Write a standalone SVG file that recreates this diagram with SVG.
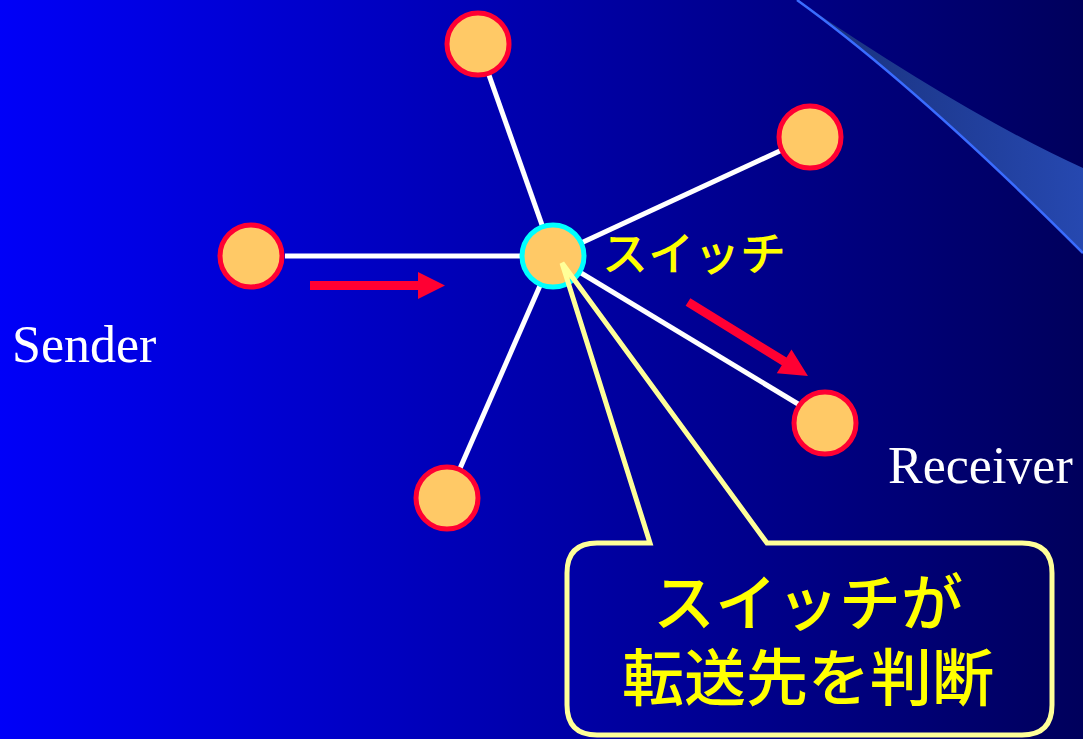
<svg xmlns="http://www.w3.org/2000/svg" width="1083" height="739" viewBox="0 0 1083 739">
<defs>
<linearGradient id="bg" x1="0" y1="0" x2="1083" y2="0" gradientUnits="userSpaceOnUse">
<stop offset="0" stop-color="#0000F8"/>
<stop offset="1" stop-color="#00005C"/>
</linearGradient>
<linearGradient id="wedge" x1="797" y1="0" x2="1083" y2="0" gradientUnits="userSpaceOnUse">
<stop offset="0" stop-color="#18307A"/>
<stop offset="1" stop-color="#2648B0"/>
</linearGradient>
<style>
.link{stroke:#FFFFFF;stroke-width:5;fill:none}
.host{fill:#FFC966;stroke:#FF0033;stroke-width:5}
.sw{fill:#FFC966;stroke:#00FFFF;stroke-width:5}
.arrow{fill:#FF0033}
.en{font-family:"Liberation Serif","Times New Roman",serif;font-size:52px;fill:#FFFFFF}
.jp{font-family:"Noto Sans CJK JP","Noto Sans",sans-serif;fill:#FFFF00;font-weight:500}
</style>
</defs>
<rect x="0" y="0" width="1083" height="739" fill="url(#bg)"/>
<g id="decoration">
<path d="M797,0 Q968,116 1083,168 L1083,253 Q915,85 797,0 Z" fill="url(#wedge)"/>
<path d="M797,0 Q915,85 1083,253" fill="none" stroke="#3A6CFF" stroke-width="2.5"/>
</g>
<g id="connectors">
<line class="link" x1="285" y1="256" x2="553" y2="256"/>
<line class="link" x1="478" y1="44" x2="553" y2="256"/>
<line class="link" x1="810" y1="137" x2="553" y2="256"/>
<line class="link" x1="808" y1="410" x2="553" y2="256"/>
<line class="link" x1="447" y1="498" x2="553" y2="256"/>
</g>
<g id="node-top"><circle class="host" cx="478" cy="44" r="31"/></g>
<g id="node-upper-right"><circle class="host" cx="810" cy="137" r="31"/></g>
<g id="node-sender"><circle class="host" cx="251" cy="256" r="31"/><text class="en" x="12" y="362">Sender</text></g>
<g id="node-receiver"><circle class="host" cx="825" cy="423" r="31"/><text class="en" x="888" y="483">Receiver</text></g>
<g id="node-bottom"><circle class="host" cx="447" cy="498" r="31"/></g>
<g id="node-switch"><circle class="sw" cx="553" cy="256" r="31"/><text class="jp" x="602" y="270" font-size="46">スイッチ</text></g>
<g id="arrows">
<polygon class="arrow" points="310,281 418,281 418,272 445,285.5 418,299 418,290 310,290"/>
<polygon class="arrow" transform="translate(688,302) rotate(31.7)" points="0,-4.5 113,-4.5 113,-14 141,0 113,14 113,4.5 0,4.5"/>
</g>
<g id="callout">
<path d="M597,543 L650,543 L562,263 L767,543 L1022,543 Q1052,543 1052,573 L1052,705 Q1052,735 1022,735 L597,735 Q567,735 567,705 L567,573 Q567,543 597,543 Z" fill="none" stroke="#FFFF99" stroke-width="5" stroke-linejoin="miter"/>
<text class="jp" x="808" y="626" font-size="62" text-anchor="middle">スイッチが</text>
<text class="jp" x="808" y="701" font-size="62" text-anchor="middle">転送先を判断</text>
</g>
</svg>
